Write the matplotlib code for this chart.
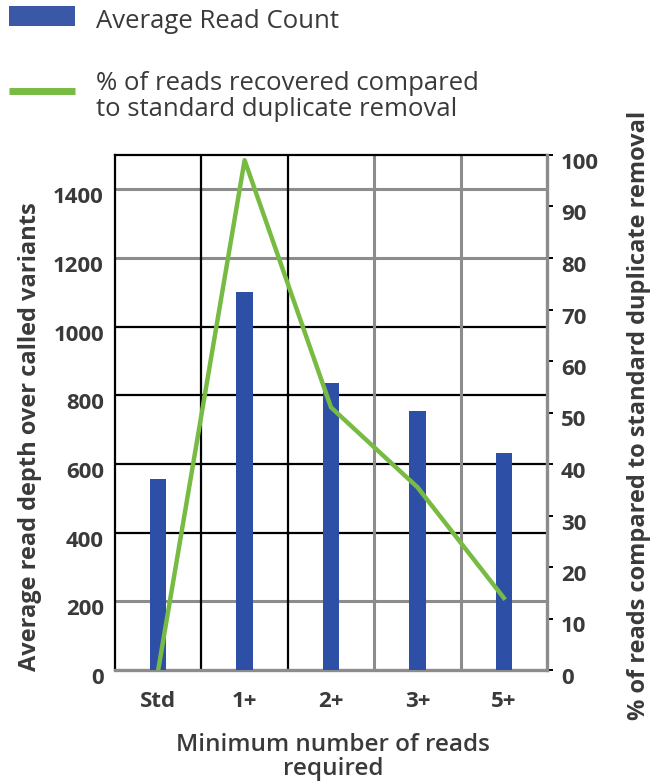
import matplotlib
matplotlib.use("Agg")
import matplotlib.pyplot as plt
import matplotlib.transforms as mtransforms
from matplotlib.patches import Rectangle
from matplotlib.lines import Line2D

plt.rcParams['font.family'] = ['Open Sans', 'DejaVu Sans']

categories = ["Std", "1+", "2+", "3+", "5+"]
avg_read_count = [557, 1100, 837, 755, 633]
pct_recovered = [0, 99, 51, 35.5, 14]
left_ticks = [0, 200, 400, 600, 800, 1000, 1200, 1400]
right_ticks = [0, 10, 20, 30, 40, 50, 60, 70, 80, 90, 100]

BLUE = "#2d4fa6"
GREEN = "#78bb43"
TEXT = "#3a3a3a"
GRAY = "#8c8c8c"
W, H = 653, 784

fig = plt.figure(figsize=(W / 100, H / 100), dpi=100)
ax = fig.add_axes([115/W, 1-670/H, 432/W, 515/H])
ax2 = ax.twinx()

x = list(range(len(categories)))
ax.bar(x, avg_read_count, width=0.19, color=BLUE, zorder=3)
ax.set_xlim(-0.5, len(categories) - 0.5)
ax.set_ylim(0, 1500)
ax2.set_ylim(0, 100)

# grid: some lines solid black, others soft gray
gray_h = {0, 200, 1200, 1400}
for v in left_ticks:
    if v == 0:
        continue
    ax.axhline(v, color=GRAY if v in gray_h else "black", lw=2.2 if v in gray_h else 1.6, zorder=1)
for b in [0.5, 1.5, 2.5, 3.5]:
    ax.axvline(b, color="black" if b < 2 else GRAY, lw=1.6 if b < 2 else 2.2, zorder=1)

ax.spines['left'].set_color("black"); ax.spines['left'].set_linewidth(1.6)
ax.spines['top'].set_color("black"); ax.spines['top'].set_linewidth(1.6)
ax.spines['bottom'].set_color(GRAY); ax.spines['bottom'].set_linewidth(2.4)
ax.spines['right'].set_visible(False)
ax2.spines['left'].set_visible(False)
ax2.spines['top'].set_visible(False)
ax2.spines['bottom'].set_visible(False)
ax2.spines['right'].set_color(GRAY); ax2.spines['right'].set_linewidth(2.4)

ax2.plot(x, pct_recovered, color=GREEN, lw=3.2, solid_joinstyle="round", zorder=4)

ax.set_xticks(x)
ax.set_xticklabels(categories, fontsize=16, fontweight="bold", color=TEXT)
ax.tick_params(axis="x", length=0, pad=15)
ax.set_yticks(left_ticks)
ax.set_yticklabels([str(v) for v in left_ticks], fontsize=16, fontweight="bold", color=TEXT)
ax.tick_params(axis="y", length=0, pad=8)
ax2.set_yticks(right_ticks)
ax2.set_yticklabels([str(v) for v in right_ticks], fontsize=16, fontweight="bold", color=TEXT)
ax2.tick_params(axis="y", length=4, width=1.4, color="black", pad=6)

off = mtransforms.ScaledTranslation(0, -6/100, fig.dpi_scale_trans)
for lab in ax.get_yticklabels() + ax2.get_yticklabels():
    lab.set_transform(lab.get_transform() + off)

# axis titles
fig.text(30/W, 1-437/H, "Average read depth over called variants", rotation=90,
         fontsize=17, fontweight="bold", color=TEXT, ha="center", va="center")
fig.text(639/W, 1-415/H, "% of reads compared to standard duplicate removal", rotation=90,
         fontsize=17, fontweight="bold", color=TEXT, ha="center", va="center")
fig.text(333/W, 1-757/H, "Minimum number of reads\nrequired", fontsize=17.5,
         fontweight="semibold", color=TEXT, ha="center", va="center", linespacing=1.0)

# legend drawn in figure pixels
fig.patches.append(Rectangle((9/W, 1-26/H), 66/W, 20/H, transform=fig.transFigure,
                             facecolor="#3a58a6", edgecolor="none"))
fig.lines.append(Line2D([9/W, 75/W], [1-90.5/H, 1-90.5/H], transform=fig.transFigure,
                        color=GREEN, lw=5, solid_capstyle="butt"))
fig.text(96/W, 1-22/H, "Average Read Count", fontsize=18.5, color=TEXT, va="center")
fig.text(96/W, 1-96.5/H, "% of reads recovered compared\nto standard duplicate removal",
         fontsize=18.5, color=TEXT, va="center", linespacing=1.05)

fig.savefig("out.png", dpi=100)
